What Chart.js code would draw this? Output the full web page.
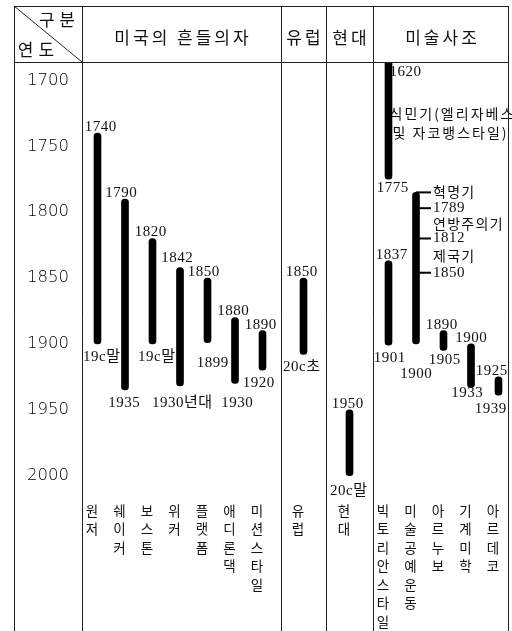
<!DOCTYPE html>
<html><head><meta charset="utf-8">
<script src="https://cdn.jsdelivr.net/npm/chart.js@4.4.1/dist/chart.umd.min.js"></script>
<style>html,body{margin:0;padding:0;background:#fff}canvas{display:block}</style>
</head><body>
<canvas id="c" width="512" height="631"></canvas>
<script>
// ---------------- data ----------------
const yearTicks = [1700, 1750, 1800, 1850, 1900, 1950, 2000];
const cornerLabels = ['구분', '연도'];
const groupNames = ['미국의 흔들의자', '유럽', '현대', '미술사조'];
const categories = ['원저','쉐이커','보스톤','위커','플랫폼','애디론댁','미션스타일','유럽','현대','빅토리안스타일','미술공예운동','아르누보','기계미학','아르데코'];
const categoryGroup = [0,0,0,0,0,0,0,1,2,3,3,3,3,3];
const startYears = [1740,1790,1820,1842,1850,1880,1890,1850,1950,1837,1785,1890,1900,1925];
const endYears   = [1900,1935,1900,1932,1899,1930,1920,1908,2000,1901,1900,1905,1933,1939];
const startLabels = ['1740','1790','1820','1842','1850','1880','1890','1850','1950','1837','','1890','1900','1925'];
const endLabels   = ['19c말','1935','19c말','1930년대','1899','1930','1920','20c초','20c말','1901','1900','1905','1933','1939'];
const colonialSpan = [1620, 1775];
const colonialLabels = ['1620', '1775'];
const colonialNote = ['식민기(엘리자베스', '및 자코뱅스타일)'];
const colonialNoteYears = [1725, 1740];
const federalTickYears = [1797, 1820, 1846];
const federalTickLabels = ['1789', '1812', '1850'];
const federalPeriods = ['혁명기', '연방주의기', '제국기'];

// ---------------- layout / style ----------------
const LINE = '#222';
const KFONT = "'Noto Sans CJK KR', sans-serif";
const NFONT = "'Liberation Serif', 'Noto Sans CJK KR', serif";
const HEADER_H = 56;
const groupWidths = [199, 45, 47, 136];
const slotPad = 1.75, slotW = 27.5;
const groupStarts = []; let acc = 0;
for (const w of groupWidths) { groupStarts.push(acc); acc += w; }
const totalW = acc;
const barX = categories.map((c, i) => {
  const g = categoryGroup[i];
  const members = categoryGroup.map((gg, j) => gg === g ? j : -1).filter(j => j >= 0);
  const k = members.indexOf(i);
  if (members.length === 1) return groupStarts[g] + groupWidths[g] / 2;
  return groupStarts[g] + slotPad + (k + 0.5) * slotW;
});
const colonialSlot = 9;
// label nudges (px)
const startDx = [3,-4,-2,-3,-4,-2,-2,-2,-2,3,0,-2,0,-7];
const startDy = [0,0,0,-3,0,0,0,0,0,0,0,0,0,0];
const endDx   = [4,-1,4,2,5,2,-4,-2,-1,1,0,1,-4,-8];
const endDy   = [0,0,0,4,8,7,0,0,2,0,17,-3,-7,1];

// draws text char by char so that letter spacing is applied exactly
function txt(ctx, s, px, py, font, align, spacing) {
  align = align || 'center'; spacing = spacing || 0;
  ctx.font = font;
  ctx.letterSpacing = '0px';
  ctx.textAlign = 'left';
  ctx.textBaseline = 'middle';
  ctx.fillStyle = '#111';
  const chars = [...s];
  const ws = chars.map(ch => ctx.measureText(ch).width);
  const total = ws.reduce((a, b) => a + b, 0) + spacing * (chars.length - 1);
  let x0 = align === 'center' ? px - total / 2 : (align === 'right' ? px - total : px);
  chars.forEach((ch, i) => { ctx.fillText(ch, x0, py); x0 += ws[i] + spacing; });
}

const tablePlugin = {
  id: 'table',
  beforeDatasetsDraw(chart) {
    const {ctx, scales: {x, y}} = chart;
    ctx.save();
    const cx = x.getPixelForValue(barX[colonialSlot]);
    colonialNote.forEach((s, i) => txt(ctx, s, cx + 1 + i * 3, y.getPixelForValue(colonialNoteYears[i]), '14px ' + KFONT, 'left', 2));
    ctx.restore();
  },
  afterDatasetsDraw(chart) {
    const {ctx, chartArea: ca, scales: {x, y}} = chart;
    const L = y.left, T = ca.top - HEADER_H, R = ca.right, B = chart.height;
    ctx.save();
    ctx.strokeStyle = LINE; ctx.lineWidth = 1;
    const line = (x0, y0, x1, y1) => { ctx.beginPath(); ctx.moveTo(x0, y0); ctx.lineTo(x1, y1); ctx.stroke(); };
    const r = v => Math.round(v) + 0.5;
    line(L, r(T), R, r(T));
    line(L, r(ca.top), R, r(ca.top));
    line(r(L), T, r(L), B);
    line(r(ca.left), T, r(ca.left), B);
    for (let g = 1; g < groupStarts.length; g++) {
      const gx = r(x.getPixelForValue(groupStarts[g]));
      line(gx, T, gx, B);
    }
    line(r(R) - 1, T, r(R) - 1, B);
    line(L, T, ca.left, ca.top);
    // corner
    txt(ctx, cornerLabels[0], L + 43, T + 14, '17px ' + KFONT, 'center', 4.5);
    txt(ctx, cornerLabels[1], L + 22, T + 44, '17px ' + KFONT, 'center', 5);
    // group headers
    groupNames.forEach((n, g) => {
      const gx = x.getPixelForValue(groupStarts[g] + groupWidths[g] / 2);
      txt(ctx, n, gx, T + 32, '17px ' + KFONT, 'center', 3);
    });
    // bar labels
    categories.forEach((c, i) => {
      const bx = x.getPixelForValue(barX[i]);
      if (startLabels[i]) txt(ctx, startLabels[i], bx + startDx[i], y.getPixelForValue(startYears[i]) - 6 + startDy[i], '15px ' + NFONT, 'center', 0.5);
      if (endLabels[i]) txt(ctx, endLabels[i], bx + endDx[i], y.getPixelForValue(endYears[i]) + 13 + endDy[i], '15px ' + NFONT, 'center', 0.5);
      // vertical category names
      const y0 = y.getPixelForValue(2000) + 35;
      [...c].forEach((ch, k) => txt(ctx, ch, bx - 5.5, y0 + k * 18.5, '13.5px ' + KFONT, 'center', 0));
    });
    // colonial labels
    const cx = x.getPixelForValue(barX[colonialSlot]);
    txt(ctx, colonialLabels[0], cx + 1, Math.max(y.getPixelForValue(colonialSpan[0]), ca.top) + 10, '15px ' + NFONT, 'left', 0.5);
    txt(ctx, colonialLabels[1], cx + 4, y.getPixelForValue(colonialSpan[1]) + 9, '15px ' + NFONT, 'center', 0.5);
    // federal bracket
    const fi = 10;
    const fx = x.getPixelForValue(barX[fi]);
    ctx.lineWidth = 2; ctx.strokeStyle = '#000';
    const topY = y.getPixelForValue(startYears[fi]);
    line(fx, topY, fx + 15, topY);
    const tickYs = federalTickYears.map(v => y.getPixelForValue(v));
    tickYs.forEach(ty => line(fx, ty, fx + 15, ty));
    const tx = fx + 17;
    txt(ctx, federalPeriods[0], tx, topY - 1, '14px ' + KFONT, 'left', 1.3);
    txt(ctx, federalTickLabels[0], tx, tickYs[0], '15px ' + NFONT, 'left', 0.5);
    txt(ctx, federalPeriods[1], tx, (tickYs[0] + tickYs[1]) / 2, '14px ' + KFONT, 'left', 1.3);
    txt(ctx, federalTickLabels[1], tx, tickYs[1], '15px ' + NFONT, 'left', 0.5);
    txt(ctx, federalPeriods[2], tx, (tickYs[1] + tickYs[2]) / 2, '14px ' + KFONT, 'left', 1.3);
    txt(ctx, federalTickLabels[2], tx, tickYs[2], '15px ' + NFONT, 'left', 0.5);
    ctx.restore();
  }
};

const barStyle = { backgroundColor: '#000', borderWidth: 0, barThickness: 7, borderRadius: 3.5, borderSkipped: false };

new Chart(document.getElementById('c'), {
  type: 'bar',
  data: {
    datasets: [
      Object.assign({ label: 'periods', data: categories.map((c, i) => ({ x: barX[i], y: [startYears[i], endYears[i]] })) }, barStyle),
      Object.assign({ label: 'colonial', data: [{ x: barX[colonialSlot], y: colonialSpan }] }, barStyle)
    ]
  },
  options: {
    responsive: false,
    animation: false,
    grouped: false,
    layout: { padding: { left: 14, top: 6 + HEADER_H, right: 3, bottom: 0 } },
    plugins: { legend: { display: false }, tooltip: { enabled: false } },
    scales: {
      x: { type: 'linear', min: 0, max: totalW, offset: false, display: false },
      y: {
        type: 'linear', reverse: true, min: 1686, max: 2118,
        grid: { display: false, drawTicks: false },
        border: { display: false },
        afterBuildTicks: s => { s.ticks = yearTicks.map(v => ({ value: v })); },
        afterFit: s => { s.width = 68; s.paddingTop = 0; s.paddingBottom = 0; },
        ticks: { padding: 13, crossAlign: 'center', color: '#000', font: { family: 'DejaVu Sans', size: 16.5, weight: '200' }, callback: v => String(v) }
      }
    }
  },
  plugins: [tablePlugin]
});
</script>
</body></html>
